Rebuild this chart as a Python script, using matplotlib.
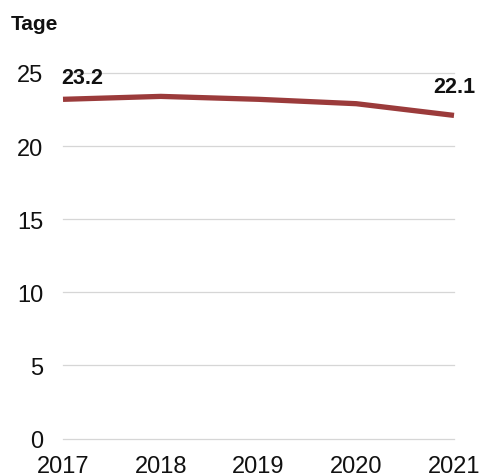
import matplotlib
matplotlib.use("Agg")
import matplotlib.pyplot as plt

plt.rcParams['font.family'] = ['Liberation Sans', 'DejaVu Sans']

years = [2017, 2018, 2019, 2020, 2021]
days = [23.2, 23.4, 23.2, 22.9, 22.1]
yticks = [0, 5, 10, 15, 20, 25]
unit_label = "Tage"

line_color = '#9b3b3b'
grid_color = '#d6d6d6'

fig = plt.figure(figsize=(4.81, 4.77), dpi=100)
ax = fig.add_axes([63 / 481, 1 - 439.5 / 477, (454 - 63) / 481, (439.5 - 74) / 477])

ax.plot(years, days, color=line_color, linewidth=3.8, solid_joinstyle='round',
        solid_capstyle='butt', clip_on=False, zorder=3)

ax.set_xlim(years[0], years[-1])
ax.set_ylim(0, 25)
ax.set_xticks(years)
ax.set_xticklabels([str(y) for y in years])
ax.set_yticks(yticks)
ax.set_yticklabels([str(t) for t in yticks])

for t in yticks:
    ax.axhline(t, color=grid_color, linewidth=0.9, zorder=1, clip_on=False)

for s in ax.spines.values():
    s.set_visible(False)
ax.tick_params(axis='both', length=0, labelsize=17, colors='#111111')
ax.tick_params(axis='y', pad=14)
ax.tick_params(axis='x', pad=12)

# value labels on first and last points
ax.annotate(f"{days[0]:.1f}", (years[0], days[0]), xytext=(-1, 12),
            textcoords='offset points', ha='left', va='baseline',
            fontsize=15.5, fontweight='bold', color='#111111')
ax.annotate(f"{days[-1]:.1f}", (years[-1], days[-1]), xytext=(0, 17),
            textcoords='offset points', ha='center', va='baseline',
            fontsize=15.5, fontweight='bold', color='#111111')

fig.text(11 / 481, 1 - 30 / 477, unit_label, ha='left', va='baseline',
         fontsize=15, fontweight='bold', color='#111111')

fig.savefig("out.png", dpi=100, facecolor='white')
